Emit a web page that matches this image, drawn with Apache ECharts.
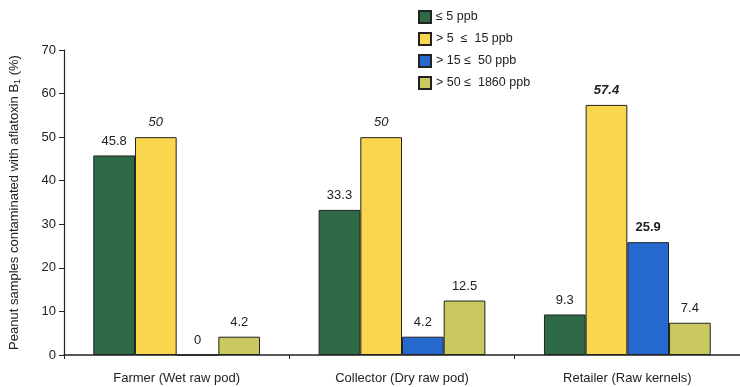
<!DOCTYPE html>
<html>
<head>
<meta charset="utf-8">
<script src="https://cdn.jsdelivr.net/npm/echarts@6/dist/echarts.min.js"></script>
<style>
  html, body { margin: 0; padding: 0; background: #fff; }
  #chart { width: 740px; height: 387px; }
</style>
</head>
<body>
<div id="chart"></div>
<script>
// Sampling points along the peanut supply chain
const categories = ['Farmer (Wet raw pod)', 'Collector (Dry raw pod)', 'Retailer (Raw kernels)'];

// Aflatoxin B1 concentration classes
const seriesNames = ['\u2264 5 ppb', '> 5  \u2264  15 ppb', '> 15 \u2264  50 ppb', '> 50 \u2264  1860 ppb'];

// Share of samples in each class (%)
const le5 = [45.8, 33.3, 9.3];
const gt5le15 = [50, 50, 57.4];
const gt15le50 = [0, 4.2, 25.9];
const gt50le1860 = [4.2, 12.5, 7.4];

const yTicks = { min: 0, max: 70, interval: 10 };

const colors = ['#2e6a45', '#f8d64e', '#2569cf', '#c9c960'];
const FONT = 'Liberation Sans, Arial, sans-serif';

// per-point label emphasis (italic / bold) used in the figure
const labelStyles = [
  [{}, {}, {}],
  [{ fontStyle: 'italic' }, { fontStyle: 'italic' }, { fontStyle: 'italic', fontWeight: 'bold' }],
  [{}, {}, { fontWeight: 'bold' }],
  [{}, {}, {}]
];

function makeSeries(name, values, idx) {
  return {
    name: name,
    type: 'bar',
    barGap: '0%',
    barCategoryGap: '26%',
    itemStyle: { color: colors[idx], borderColor: '#222', borderWidth: 1 },
    label: {
      show: true,
      position: 'top',
      distance: 8,
      fontFamily: FONT,
      fontSize: 13,
      color: '#222'
    },
    data: values.map((v, i) => ({
      value: v,
      label: labelStyles[idx][i]
    }))
  };
}

const chart = echarts.init(document.getElementById('chart'), null, { renderer: 'canvas' });
chart.setOption({
  backgroundColor: '#fff',
  animation: false,
  textStyle: { fontFamily: FONT },
  legend: {
    orient: 'vertical',
    left: 413,
    top: 5,
    itemWidth: 12,
    itemHeight: 12,
    itemGap: 8,
    icon: 'rect',
    textStyle: { fontFamily: FONT, fontSize: 12.5, color: '#222' },
    data: seriesNames
  },
  grid: { left: 62, right: 0, top: 50, bottom: 32, containLabel: false },
  xAxis: {
    type: 'category',
    data: categories,
    axisLine: { lineStyle: { color: '#222', width: 1.5 } },
    axisTick: { show: true, alignWithLabel: false, length: 4, lineStyle: { color: '#222' } },
    axisLabel: { fontFamily: FONT, fontSize: 13, color: '#222', margin: 17 }
  },
  yAxis: {
    type: 'value',
    min: yTicks.min,
    max: yTicks.max,
    interval: yTicks.interval,
    name: '{a|Peanut samples contaminated with aflatoxin B}{s|1}{a| (%)}',
    nameLocation: 'middle',
    nameGap: 42,
    nameTextStyle: {
      rich: {
        a: { fontFamily: FONT, fontSize: 13, color: '#222' },
        s: { fontFamily: FONT, fontSize: 9, color: '#222', verticalAlign: 'bottom', padding: [6, 0, 0, 0] }
      }
    },
    axisLine: { show: true, lineStyle: { color: '#222', width: 1.2 } },
    axisTick: { show: true, length: 5, lineStyle: { color: '#222' } },
    axisLabel: { fontFamily: FONT, fontSize: 13, color: '#222', margin: 8 },
    splitLine: { show: false }
  },
  series: [
    makeSeries(seriesNames[0], le5, 0),
    makeSeries(seriesNames[1], gt5le15, 1),
    makeSeries(seriesNames[2], gt15le50, 2),
    makeSeries(seriesNames[3], gt50le1860, 3)
  ]
});
</script>
</body>
</html>
